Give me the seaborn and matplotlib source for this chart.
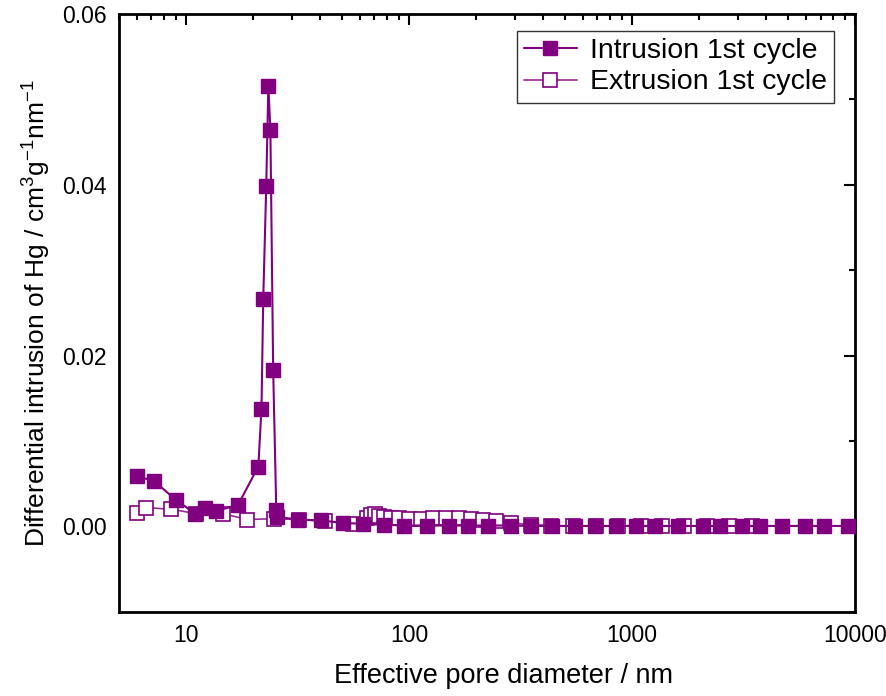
import matplotlib
matplotlib.use("Agg")
import matplotlib.pyplot as plt
from matplotlib.ticker import LogLocator, NullFormatter, MultipleLocator, FormatStrFormatter
import seaborn as sns
import pandas as pd

# Mercury porosimetry, first cycle
intrusion_d = [6.0, 7.2, 9.0, 11.0, 12.2, 13.6, 17.1, 21.1, 21.8, 22.2, 22.9, 23.4,
               23.9, 24.6, 25.4, 25.7, 31.9, 40.1, 50.8, 61.9, 76.9, 94.6, 121, 151,
               184, 226, 287, 352, 438, 556, 684, 851, 1047, 1262, 1600, 2074, 2473,
               3105, 3742, 4700, 5960, 7260, 9310]
intrusion_v = [0.0059, 0.0053, 0.0031, 0.0015, 0.0022, 0.0018, 0.0025, 0.0070, 0.0138,
               0.0266, 0.0399, 0.0516, 0.0464, 0.0183, 0.0019, 0.0011, 0.0008, 0.0007,
               0.0004, 0.0003, 0.0002, 0.0001, 0.0001, 0.0001, 0.0001, 0.0001, 0.0001,
               0.00005, 0.00005, 0.00005, 0.00005, 0.00005, 0.00005, 0.00005, 0.00005,
               0.00005, 0.00005, 0.00005, 0.00005, 0.00005, 0.00005, 0.00005, 0.00005]

extrusion_d = [6.0, 6.6, 8.6, 11.1, 14.6, 18.8, 24.7, 32.0, 41.8, 55.8, 64.5, 67.3,
               70.2, 73.1, 76.9, 82.7, 89.9, 99.7, 113, 128, 146, 167, 190, 215, 246,
               287, 352, 434, 545, 691, 868, 1102, 1357, 1703, 2161, 2715, 3445]
extrusion_v = [0.0016, 0.0022, 0.0020, 0.0015, 0.0015, 0.0008, 0.0009, 0.0008, 0.0006,
               0.0003, 0.0010, 0.0013, 0.0014, 0.0012, 0.0011, 0.0010, 0.0010, 0.0009,
               0.0009, 0.0010, 0.0010, 0.0010, 0.0009, 0.0007, 0.0006, 0.0004, 0.0002,
               0.0001, 0.00005, 0.00005, 0.00005, 0.00005, 0.00005, 0.00005, 0.00005,
               0.00005, 0.00005]

x_ticks = [10, 100, 1000, 10000]
y_ticks = [0.00, 0.02, 0.04, 0.06]

sns.set_theme(style="white")
plt.rcParams["font.family"] = ["Liberation Sans", "DejaVu Sans"]
plt.rcParams["mathtext.default"] = "regular"
plt.rcParams["text.color"] = "black"
plt.rcParams["axes.labelcolor"] = "black"

df_in = pd.DataFrame({"d": intrusion_d, "v": intrusion_v})
df_ex = pd.DataFrame({"d": extrusion_d, "v": extrusion_v})

fig = plt.figure(figsize=(8.87, 6.96), dpi=100)
ax = fig.add_axes([0.134, 0.121, 0.830, 0.859])

purple = "#800080"
sns.lineplot(data=df_ex, x="d", y="v", ax=ax, color="#9a2a9a", lw=1.2,
             marker="s", markersize=9.5, markerfacecolor="white",
             markeredgecolor=purple, markeredgewidth=1.2,
             label="Extrusion 1st cycle", zorder=2)
sns.lineplot(data=df_in, x="d", y="v", ax=ax, color=purple, lw=1.5,
             marker="s", markersize=9.5, markerfacecolor=purple,
             markeredgecolor=purple, markeredgewidth=1.0,
             label="Intrusion 1st cycle", zorder=3)

ax.set_xscale("log")
ax.set_xlim(5, 10000)
ax.set_ylim(-0.01, 0.06)
ax.set_xticks(x_ticks)
ax.set_xticklabels([str(t) for t in x_ticks])
ax.xaxis.set_minor_locator(LogLocator(base=10, subs=range(2, 10), numticks=20))
ax.xaxis.set_minor_formatter(NullFormatter())
ax.set_yticks(y_ticks)
ax.yaxis.set_major_formatter(FormatStrFormatter("%.2f"))
ax.yaxis.set_minor_locator(MultipleLocator(0.01))

ax.tick_params(which="both", direction="in", top=True, right=True,
               labelsize=16.5, colors="black", labelcolor="black", width=1.5)
ax.tick_params(which="major", length=8, pad=9)
ax.tick_params(which="minor", length=4.5)
for s in ax.spines.values():
    s.set_color("black")
    s.set_linewidth(2)

ax.set_xlabel("Effective pore diameter / nm", fontsize=19.5, labelpad=14)
ax.xaxis.set_label_coords(0.523, -0.085)
ax.set_ylabel("Differential intrusion of Hg / cm$^{3}$g$^{-1}$nm$^{-1}$",
              fontsize=19, labelpad=6)

handles, labels = ax.get_legend_handles_labels()
leg = ax.legend(handles[::-1], labels[::-1], loc="upper right",
                bbox_to_anchor=(0.971, 0.972), fontsize=20.5, frameon=True,
                fancybox=False, edgecolor="black", handlelength=1.85,
                handletextpad=0.45, borderpad=0.25, labelspacing=0.2,
                borderaxespad=0.0)
leg.get_frame().set_linewidth(1.0)

fig.savefig("out.png", dpi=100)
